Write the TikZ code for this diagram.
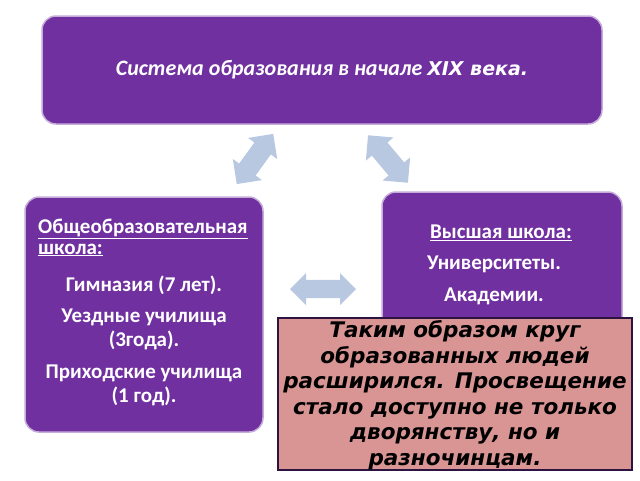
\documentclass[tikz,border=0pt]{standalone}
\usepackage{fontspec}
\setmainfont{Carlito}
\newfontfamily\notefont{DejaVu Sans}
\usetikzlibrary{shapes.arrows}
\definecolor{boxpurple}{HTML}{7030A0}
\definecolor{arrowblue}{HTML}{B8C8E0}
\definecolor{notepink}{HTML}{D99594}
\tikzset{
  purplebox/.style={fill=boxpurple, draw=boxpurple!40, line width=1.5pt, rounded corners=14pt},
  boxtext/.style={text=white, font=\bfseries\fontsize{21}{22}\selectfont, align=center, inner sep=0pt},
  dblarrow/.style={double arrow, fill=arrowblue, draw=none, minimum height=62pt,
    minimum width=36pt, double arrow head extend=4pt, inner sep=5pt}
}
\begin{document}
\begin{tikzpicture}[x=1pt, y=-1pt]
   %
   \useasboundingbox (0,0) rectangle (640,480);
   %
   \draw[purplebox] (42,16) rectangle (602,124);
   \node[boxtext, font=\bfseries\itshape\fontsize{22}{22}\selectfont] (title) at (322,70)
     {Система образования в начале {\notefont\fontsize{19}{22}\selectfont XIX века.}};
   %
   \draw[purplebox] (25,197) rectangle (263,432);
   \node[boxtext, anchor=west] (schoolhead) at (38,229) {\underline{Общеобразовательная}};
   \node[boxtext, anchor=west] (schoolsub) at (38,250) {\underline{школа:}};
   \node[boxtext] (gymn) at (144,285) {Гимназия (7 лет).};
   \node[boxtext] (uezd) at (144,329) {Уездные училища\\[2pt](3года).};
   \node[boxtext] (prikh) at (144,385) {Приходские училища\\[2pt](1 год).};
   %
   \draw[purplebox] (382,192) rectangle (622,432);
   \node[boxtext, anchor=west] (highhead) at (430,233) {\underline{Высшая школа:}};
   \node[boxtext] (univ) at (494,264) {Университеты.};
   \node[boxtext] (acad) at (494,296) {Академии.};
   %
   \node[dblarrow, rotate=54] (arrowleft) at (255,159) {};
   \node[dblarrow, rotate=-50] (arrowright) at (388,159) {};
   \node[dblarrow, minimum height=66pt, minimum width=32pt] (arrowmid) at (323,289) {};
   %
   \draw[fill=notepink, draw=boxpurple!40!black, line width=1.2pt] (278,318) rectangle (632,470);
   \node[align=center, font=\notefont\bfseries\itshape\fontsize{21.5}{25.5}\selectfont] (note) at (455,395)
     {Таким образом круг\\ образованных людей\\ расширился. Просвещение\\
      стало доступно не только\\ дворянству, но и\\ разночинцам.};
   %
\end{tikzpicture}
\end{document}
